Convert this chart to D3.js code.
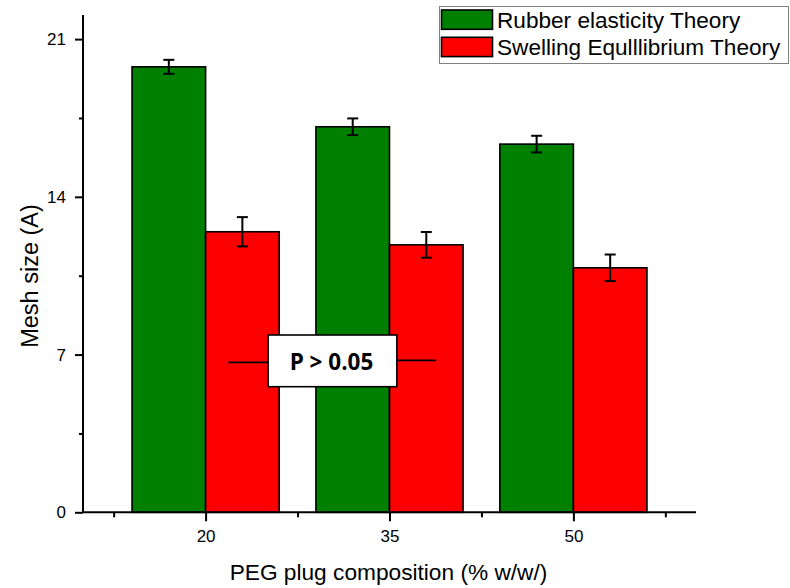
<!DOCTYPE html>
<html>
<head>
<meta charset="utf-8">
<script src="https://cdn.jsdelivr.net/npm/d3@7/dist/d3.min.js"></script>
<style>
  html, body { margin: 0; padding: 0; background: #fff; }
  svg { display: block; }
  text { font-family: "Liberation Sans", Arial, sans-serif; fill: #000; }
</style>
</head>
<body>
<svg id="chart" width="790" height="588"></svg>
<script>
// PEG plug composition (% w/w) and mesh size estimates
const categories = [20, 35, 50];
const seriesNames = ["Rubber elasticity Theory", "Swelling Equlllibrium Theory"];
const seriesColors = ["#008000", "#ff0000"];
const rubberValues = [19.77, 17.11, 16.34];
const rubberErrors = [0.31, 0.37, 0.37];
const swellingValues = [12.45, 11.87, 10.85];
const swellingErrors = [0.65, 0.57, 0.59];
const yTicks = [0, 7, 14, 21];
const yMinorTicks = [3.5, 10.5, 17.5];
const xMinorTicks = [12.5, 27.5, 42.5, 57.5];
const annotationText = "P > 0.05";

const series = [
  { name: seriesNames[0], color: seriesColors[0], values: rubberValues, errors: rubberErrors, offset: -1 },
  { name: seriesNames[1], color: seriesColors[1], values: swellingValues, errors: swellingErrors, offset: 0 }
];

const svg = d3.select("#chart");
const x = d3.scaleLinear().domain([10, 60]).range([83, 696]);
const y = d3.scaleLinear().domain([0, 22.07]).range([512.3, 15]);
const barWidth = 6; // in x-axis units

// bars
series.forEach(s => {
  svg.append("g").selectAll("rect")
    .data(categories.map((c, i) => ({ c, v: s.values[i], e: s.errors[i] })))
    .join("rect")
    .attr("x", d => x(d.c + s.offset * barWidth))
    .attr("y", d => y(d.v))
    .attr("width", x(barWidth) - x(0))
    .attr("height", d => y(0) - y(d.v))
    .attr("fill", s.color)
    .attr("stroke", "#000")
    .attr("stroke-width", 1.6);
});

// error bars
series.forEach(s => {
  const g = svg.append("g").attr("stroke", "#000").attr("stroke-width", 2);
  categories.forEach((c, i) => {
    const cx = x(c + s.offset * barWidth + barWidth / 2);
    const hi = y(s.values[i] + s.errors[i]);
    const lo = y(s.values[i] - s.errors[i]);
    g.append("line").attr("x1", cx).attr("x2", cx).attr("y1", hi).attr("y2", lo);
    g.append("line").attr("x1", cx - 5.5).attr("x2", cx + 5.5).attr("y1", hi).attr("y2", hi);
    g.append("line").attr("x1", cx - 5.5).attr("x2", cx + 5.5).attr("y1", lo).attr("y2", lo);
  });
});

// y axis
const yAxis = svg.append("g").attr("transform", `translate(${x(10)},0)`)
  .call(d3.axisLeft(y).tickValues(yTicks).tickSize(8).tickPadding(9).tickFormat(d3.format("d")));
svg.append("g").attr("transform", `translate(${x(10)},0)`)
  .call(d3.axisLeft(y).tickValues(yMinorTicks).tickSize(4).tickFormat(""))
  .select(".domain").remove();

// x axis
const xAxis = svg.append("g").attr("transform", `translate(0,${y(0)})`)
  .call(d3.axisBottom(x).tickValues(categories).tickSize(9).tickPadding(9).tickFormat(d3.format("d")));
svg.append("g").attr("transform", `translate(0,${y(0)})`)
  .call(d3.axisBottom(x).tickValues(xMinorTicks).tickSize(5).tickFormat(""))
  .select(".domain").remove();

// plain axis lines without end caps
yAxis.select(".domain").attr("d", `M0,${y(22.07)}V${y(0)}`).attr("stroke-width", 2);
xAxis.select(".domain").attr("d", `M${x(10)},0H${x(60)}`).attr("stroke-width", 2);
svg.selectAll(".tick line").attr("stroke-width", 2);
svg.selectAll(".tick text").attr("font-size", 17).attr("font-family", "Liberation Sans, Arial, sans-serif");

// axis titles
svg.append("text")
  .attr("x", 388.5)
  .attr("y", 580)
  .attr("text-anchor", "middle")
  .attr("font-size", 22.7)
  .text("PEG plug composition (% w/w/)");
svg.append("text")
  .attr("transform", `translate(38,${276}) rotate(-90)`)
  .attr("text-anchor", "middle")
  .attr("font-size", 23.5)
  .text("Mesh size (A)");

// significance annotation
const ann = svg.append("g");
const annY = y(6.7);
ann.append("line").attr("x1", x(21.85)).attr("x2", x(25.1)).attr("y1", annY + 1).attr("y2", annY + 1)
  .attr("stroke", "#000").attr("stroke-width", 1.6);
ann.append("line").attr("x1", x(35.65)).attr("x2", x(38.8)).attr("y1", annY - 1).attr("y2", annY - 1)
  .attr("stroke", "#000").attr("stroke-width", 1.6);
ann.append("rect")
  .attr("x", x(25.1)).attr("y", 335)
  .attr("width", x(35.6) - x(25.1)).attr("height", 51.7)
  .attr("fill", "#fff").attr("stroke", "#000").attr("stroke-width", 1.6);
ann.append("text")
  .attr("x", (x(25.1) + x(35.6)) / 2 - 1)
  .attr("y", 369.5)
  .attr("text-anchor", "middle")
  .attr("font-weight", "bold")
  .attr("font-size", 22.5)
  .style("font-family", "'Open Sans', sans-serif")
  .text(annotationText);

// legend
const legend = svg.append("g");
legend.append("rect")
  .attr("x", 439.5).attr("y", 6.5).attr("width", 349).attr("height", 57)
  .attr("fill", "#fff").attr("stroke", "#808080").attr("stroke-width", 1);
series.forEach((s, i) => {
  const ly = 10 + i * 27.3;
  legend.append("rect")
    .attr("x", 441.5).attr("y", ly).attr("width", 51).attr("height", 19.3)
    .attr("fill", s.color).attr("stroke", "#000").attr("stroke-width", 1.6);
  legend.append("text")
    .attr("x", 497).attr("y", ly + 18)
    .attr("font-size", 22.6)
    .text(s.name);
});
</script>
</body>
</html>
